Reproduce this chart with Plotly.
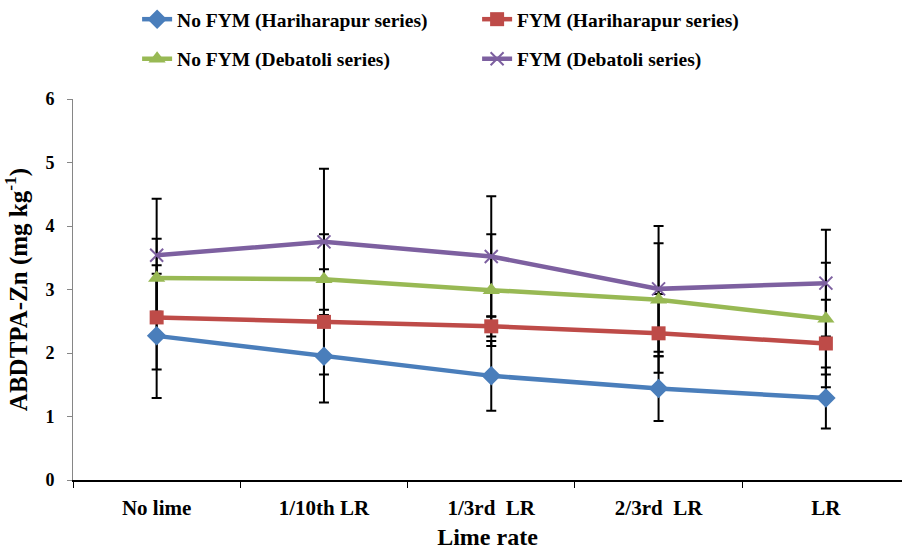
import plotly.graph_objects as go

categories = ["No lime", "1/10th LR", "1/3rd  LR", "2/3rd  LR", "LR"]

nofym_hari = [2.27, 1.95, 1.64, 1.44, 1.29]
nofym_hari_err = [0.98, 0.73, 0.55, 0.51, 0.48]
fym_hari = [2.56, 2.49, 2.42, 2.31, 2.15]
fym_hari_err = [0.82, 0.83, 0.16, 0.62, 0.69]
nofym_deba = [3.18, 3.16, 2.99, 2.84, 2.54]
nofym_deba_err = [0.62, 0.71, 0.88, 0.89, 0.88]
fym_deba = [3.54, 3.75, 3.52, 3.01, 3.10]
fym_deba_err = [0.89, 1.15, 0.95, 0.99, 0.84]

series = [
    ("No FYM (Hariharapur series)", nofym_hari, nofym_hari_err, "#4A7EBB", "diamond", 15, "legend"),
    ("FYM (Hariharapur series)", fym_hari, fym_hari_err, "#BE4B48", "square", 14, "legend"),
    ("No FYM (Debatoli series)", nofym_deba, nofym_deba_err, "#98B954", "triangle-up", 15, "legend2"),
    ("FYM (Debatoli series)", fym_deba, fym_deba_err, "#7D60A0", "x-thin", 13, "legend2"),
]

FONT = "Liberation Serif"
fig = go.Figure()

# error bars first (drawn beneath all markers and lines)
for name, vals, errs, color, sym, size, lg in series:
    fig.add_trace(go.Scatter(
        x=categories, y=vals, mode="markers",
        marker=dict(size=1, color="rgba(0,0,0,0)"),
        error_y=dict(type="data", array=errs, visible=True, color="black",
                     thickness=2, width=5),
        showlegend=False, hoverinfo="skip"))

for name, vals, errs, color, sym, size, lg in series:
    mk = dict(symbol=sym, size=size, color=color)
    if sym == "x-thin":
        mk["line"] = dict(color=color, width=2)
    fig.add_trace(go.Scatter(
        x=categories, y=vals, mode="lines+markers", name=name,
        line=dict(color=color, width=4.5), marker=mk, legend=lg))

fig.update_layout(
    width=902, height=550,
    margin=dict(l=73, r=0, t=99, b=70),
    plot_bgcolor="white", paper_bgcolor="white",
    font=dict(family=FONT, color="black", size=18, weight="bold"),
    legend=dict(orientation="h", x=0.152, y=1.0, xref="container", yref="container",
                xanchor="left", yanchor="top", entrywidth=295,
                font=dict(family=FONT, size=19.5, weight="bold"), bgcolor="rgba(0,0,0,0)"),
    legend2=dict(orientation="h", x=0.152, y=0.928, xref="container", yref="container",
                 xanchor="left", yanchor="top", entrywidth=295,
                 font=dict(family=FONT, size=19.5, weight="bold"), bgcolor="rgba(0,0,0,0)"),
)

fig.update_xaxes(
    range=[-0.5, 4.455], showline=True, linecolor="black", linewidth=2,
    ticks="outside", tickson="boundaries", ticklen=6, tickcolor="black", tickwidth=1,
    tickfont=dict(family=FONT, size=21, weight="bold"), ticklabelstandoff=8,
    showgrid=False, zeroline=False,
    title=dict(text="Lime rate", font=dict(family=FONT, size=24, weight="bold"), standoff=11),
)
fig.update_yaxes(
    range=[0, 6], dtick=1, showline=True, linecolor="#868686", linewidth=1,
    ticks="outside", ticklen=5, tickcolor="#868686",
    tickfont=dict(family=FONT, size=18, weight="bold"), ticklabelstandoff=9,
    showgrid=False, zeroline=False,
    title=dict(text="ABDTPA-Zn (mg kg<sup>-1</sup>)", font=dict(family=FONT, size=25, weight="bold"), standoff=11),
)

fig.write_html("out.html", config={"displayModeBar": False},
               post_script="document.body.style.margin='0px';")
